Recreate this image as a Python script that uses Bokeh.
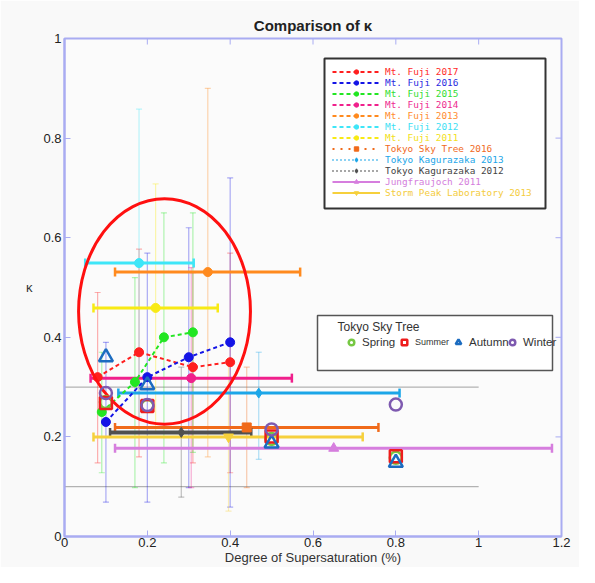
import math
from bokeh.plotting import figure
from bokeh.models import (ColumnDataSource, Whisker, TeeHead, Legend, LegendItem,
                          FixedTicker, CustomJSTickFormatter, BoxAnnotation, Range1d, Label)
from bokeh.embed import file_html
from bokeh.resources import INLINE

# ---------------- data ----------------
series_names = ["Mt. Fuji 2017", "Mt. Fuji 2016", "Mt. Fuji 2015", "Mt. Fuji 2014",
                "Mt. Fuji 2013", "Mt. Fuji 2012", "Mt. Fuji 2011", "Tokyo Sky Tree 2016",
                "Tokyo Kagurazaka 2013", "Tokyo Kagurazaka 2012", "Jungfraujoch 2011",
                "Storm Peak Laboratory 2013"]

fuji2017_x = [0.08, 0.18, 0.31, 0.40]
fuji2017_y = [0.32, 0.37, 0.34, 0.35]
fuji2017_ylo = [0.148, 0.16, 0.148, 0.128]
fuji2017_yhi = [0.49, 0.577, 0.53, 0.569]

fuji2016_x = [0.10, 0.20, 0.30, 0.40]
fuji2016_y = [0.23, 0.32, 0.36, 0.39]
fuji2016_ylo = [0.069, 0.069, 0.098, 0.059]
fuji2016_yhi = [0.39, 0.569, 0.62, 0.72]

fuji2015_x = [0.09, 0.17, 0.24, 0.31]
fuji2015_y = [0.25, 0.31, 0.40, 0.41]
fuji2015_ylo = [0.128, 0.098, 0.148, 0.169]
fuji2015_yhi = [0.37, 0.52, 0.65, 0.65]

fuji2014_x = [0.306]; fuji2014_y = [0.318]
fuji2014_ylo = [0.098]; fuji2014_yhi = [0.54]
fuji2014_xlo = [0.063]; fuji2014_xhi = [0.549]

fuji2013_x = [0.346]; fuji2013_y = [0.531]
fuji2013_ylo = [0.16]; fuji2013_yhi = [0.90]
fuji2013_xlo = [0.122]; fuji2013_xhi = [0.569]

fuji2012_x = [0.18]; fuji2012_y = [0.549]
fuji2012_ylo = [0.24]; fuji2012_yhi = [0.858]
fuji2012_xlo = [0.05]; fuji2012_xhi = [0.312]

fuji2011_x = [0.22]; fuji2011_y = [0.459]
fuji2011_ylo = [0.21]; fuji2011_yhi = [0.708]
fuji2011_xlo = [0.07]; fuji2011_xhi = [0.37]

skytree2016_x = [0.44]; skytree2016_y = [0.219]
skytree2016_ylo = [0.098]; skytree2016_yhi = [0.34]
skytree2016_xlo = [0.122]; skytree2016_xhi = [0.758]

kagura2013_x = [0.469]; kagura2013_y = [0.288]
kagura2013_ylo = [0.155]; kagura2013_yhi = [0.37]
kagura2013_xlo = [0.13]; kagura2013_xhi = [0.809]

kagura2012_x = [0.282]; kagura2012_y = [0.209]
kagura2012_ylo = [0.079]; kagura2012_yhi = [0.34]
kagura2012_xlo = [0.11]; kagura2012_xhi = [0.451]

jungfrau2011_x = [0.65]; jungfrau2011_y = [0.177]
jungfrau2011_xlo = [0.122]; jungfrau2011_xhi = [1.177]

stormpeak2013_x = [0.396]; stormpeak2013_y = [0.20]
stormpeak2013_ylo = [0.051]; stormpeak2013_yhi = [0.35]
stormpeak2013_xlo = [0.07]; stormpeak2013_xhi = [0.72]

# Tokyo Sky Tree seasonal values
season_names = ["Spring", "Summer", "Autumn", "Winter"]
season_x = [0.1, 0.2, 0.5, 0.8]
spring_y = [0.27, 0.262, 0.196, 0.158]
summer_y = [0.268, 0.262, 0.201, 0.161]
autumn_y = [0.36, 0.304, 0.187, 0.148]
winter_y = [0.288, 0.264, 0.215, 0.265]

# reference lines and highlight ellipse
ref_line_y = [0.3, 0.1]
ref_line_x0 = [0.0, 0.0]
ref_line_x1 = [1.0, 1.0]
highlight_x = [0.2415]
highlight_y = [0.452]
highlight_w = [0.415]
highlight_h = [0.453]

x_ticks = [0, 0.2, 0.4, 0.6, 0.8, 1.0, 1.2]
y_ticks = [0, 0.2, 0.4, 0.6, 0.8, 1.0]

# ---------------- styles ----------------
S = [
    dict(x=fuji2017_x, y=fuji2017_y, ylo=fuji2017_ylo, yhi=fuji2017_yhi, c="#ff1f1f", tc="#ff2a2a", m="circle", d="4 3"),
    dict(x=fuji2016_x, y=fuji2016_y, ylo=fuji2016_ylo, yhi=fuji2016_yhi, c="#1414e6", tc="#2a2ae0", m="circle", d="4 3"),
    dict(x=fuji2015_x, y=fuji2015_y, ylo=fuji2015_ylo, yhi=fuji2015_yhi, c="#22e622", tc="#33dd33", m="circle", d="4 3"),
    dict(x=fuji2014_x, y=fuji2014_y, ylo=fuji2014_ylo, yhi=fuji2014_yhi, xlo=fuji2014_xlo, xhi=fuji2014_xhi, c="#f0208c", tc="#ee2a90", m="circle", d="4 3"),
    dict(x=fuji2013_x, y=fuji2013_y, ylo=fuji2013_ylo, yhi=fuji2013_yhi, xlo=fuji2013_xlo, xhi=fuji2013_xhi, c="#ff8a1e", tc="#ff8c30", m="circle", d="4 3"),
    dict(x=fuji2012_x, y=fuji2012_y, ylo=fuji2012_ylo, yhi=fuji2012_yhi, xlo=fuji2012_xlo, xhi=fuji2012_xhi, c="#3ee6f8", tc="#3ee0f4", m="circle", d="4 3"),
    dict(x=fuji2011_x, y=fuji2011_y, ylo=fuji2011_ylo, yhi=fuji2011_yhi, xlo=fuji2011_xlo, xhi=fuji2011_xhi, c="#f8ea14", tc="#f2e020", m="circle", d="4 3"),
    dict(x=skytree2016_x, y=skytree2016_y, ylo=skytree2016_ylo, yhi=skytree2016_yhi, xlo=skytree2016_xlo, xhi=skytree2016_xhi, c="#f06a1a", tc="#f06a24", m="square", d="2 6"),
    dict(x=kagura2013_x, y=kagura2013_y, ylo=kagura2013_ylo, yhi=kagura2013_yhi, xlo=kagura2013_xlo, xhi=kagura2013_xhi, c="#1ca6e8", tc="#1ca6e8", m="diamond", d="1 3"),
    dict(x=kagura2012_x, y=kagura2012_y, ylo=kagura2012_ylo, yhi=kagura2012_yhi, xlo=kagura2012_xlo, xhi=kagura2012_xhi, c="#505050", tc="#444444", m="diamond", d="1 3"),
    dict(x=jungfrau2011_x, y=jungfrau2011_y, xlo=jungfrau2011_xlo, xhi=jungfrau2011_xhi, c="#d67ede", tc="#d47edc", m="triangle", d="solid"),
    dict(x=stormpeak2013_x, y=stormpeak2013_y, ylo=stormpeak2013_ylo, yhi=stormpeak2013_yhi, xlo=stormpeak2013_xlo, xhi=stormpeak2013_xhi, c="#f6d03c", tc="#f4cc40", m="inverted_triangle", d="solid"),
]

FONT = "Liberation Sans"
MONO = "DejaVu Sans Mono"
AXIS_C = "#a9acf2"

p = figure(width=579, height=567, output_backend="svg", toolbar_location=None,
           x_range=Range1d(0, 1.2), y_range=Range1d(0, 1),
           min_border_left=64, min_border_right=18, min_border_top=38, min_border_bottom=31,
           background_fill_color="#fbfbfb", border_fill_color="#f9f9f9")
p.title.text = "Comparison of κ"
p.title.align = "center"
p.title.text_font = FONT
p.title.text_font_size = "15px"
p.title.text_font_style = "bold"
p.title.text_color = "#222222"
p.grid.visible = False
p.outline_line_color = AXIS_C
p.outline_line_width = 2
p.outline_line_alpha = 1

for ax, ticks in ((p.xaxis[0], x_ticks), (p.yaxis[0], y_ticks)):
    ax.ticker = FixedTicker(ticks=ticks)
    ax.formatter = CustomJSTickFormatter(code="return (Math.round(tick*10)/10).toString();")
    ax.axis_line_color = AXIS_C
    ax.axis_line_width = 2
    ax.major_tick_line_color = AXIS_C
    ax.major_tick_in = 6
    ax.major_tick_out = 0
    ax.minor_tick_line_color = None
    ax.major_label_text_font = FONT
    ax.major_label_text_font_size = "13px"
    ax.major_label_text_color = "#222222"
    ax.major_label_standoff = 1
    ax.axis_label_text_font = FONT
    ax.axis_label_text_font_size = "13px"
    ax.axis_label_text_font_style = "normal"
    ax.axis_label_text_color = "#333333"
    ax.axis_label_standoff = 0
p.yaxis[0].major_label_standoff = 3
p.xaxis[0].axis_label = "Degree of Supersaturation (%)"
p.yaxis[0].axis_label = "κ"
p.yaxis[0].axis_label_orientation = "horizontal"
p.yaxis[0].axis_label_standoff = 8

# inward ticks on top and right edges (half of each dash is clipped by the frame)
p.scatter(x=x_ticks, y=[y_ticks[-1]] * len(x_ticks), marker="dash", angle=math.pi / 2,
          size=12, line_color=AXIS_C, line_width=1)
p.scatter(x=[x_ticks[-1]] * len(y_ticks), y=y_ticks, marker="dash", angle=0,
          size=12, line_color=AXIS_C, line_width=1)

# vertical error bars (thin, faint)
for s in S:
    if "ylo" in s:
        src = ColumnDataSource(dict(x=s["x"], lo=s["ylo"], hi=s["yhi"]))
        p.add_layout(Whisker(source=src, base="x", lower="lo", upper="hi", dimension="height",
                             line_color=s["c"], line_alpha=0.35, line_width=1.2,
                             upper_head=TeeHead(size=6, line_color=s["c"], line_alpha=0.35, line_width=1.2),
                             lower_head=TeeHead(size=6, line_color=s["c"], line_alpha=0.35, line_width=1.2)))

# gray reference lines
p.segment(x0=ref_line_x0, y0=ref_line_y, x1=ref_line_x1, y1=ref_line_y,
          line_color="#a0a0a0", line_width=1, level="underlay")

# horizontal error bars (thick)
for s in S:
    if "xlo" in s:
        src = ColumnDataSource(dict(y=s["y"], lo=s["xlo"], hi=s["xhi"]))
        lw = 4 if s["c"] == "#505050" else 3
        p.add_layout(Whisker(source=src, base="y", lower="lo", upper="hi", dimension="width",
                             line_color=s["c"], line_width=lw,
                             upper_head=TeeHead(size=9, line_color=s["c"], line_width=2.5),
                             lower_head=TeeHead(size=9, line_color=s["c"], line_width=2.5)))

renderers = []
for s in S:
    src = ColumnDataSource(dict(x=s["x"], y=s["y"]))
    lr = p.line("x", "y", source=src, line_color=s["c"], line_width=2, line_dash=s["d"])
    size = 9 if s["m"] in ("circle", "square") else 10
    pr = p.scatter("x", "y", source=src, marker=s["m"], size=size, fill_color=s["c"],
                   line_color=s["c"])
    renderers.append((lr, pr))

# highlight ellipse
p.ellipse(x=highlight_x, y=highlight_y, width=highlight_w, height=highlight_h,
          fill_alpha=0, line_color="#ff1010", line_width=3)

# Sky Tree seasonal markers
r_spring = p.scatter(season_x, spring_y, marker="circle", size=12, fill_color=None,
                     line_color="#76c843", line_width=2.5)
r_summer = p.scatter(season_x, summer_y, marker="square", size=12, fill_color=None,
                     line_color="#ee1c1c", line_width=2.5)
r_autumn = p.scatter(season_x, autumn_y, marker="triangle", size=14, fill_color=None,
                     line_color="#1c6cc0", line_width=2.5)
r_winter = p.scatter(season_x, winter_y, marker="circle", size=12, fill_color=None,
                     line_color="#7e5ab0", line_width=2.5)

# main legend box
p.add_layout(BoxAnnotation(left=260, right=481, bottom=328, top=478,
                           left_units="screen", right_units="screen",
                           top_units="screen", bottom_units="screen",
                           fill_color="white", fill_alpha=1, line_color="#333333",
                           line_width=2, line_alpha=1))
for i, (name, s, (lr, pr)) in enumerate(zip(series_names, S, renderers)):
    leg = Legend(items=[LegendItem(label=name, renderers=[lr, pr])],
                 location=(268, 459 - 11 * i), margin=0, padding=0, spacing=0,
                 glyph_width=48, glyph_height=11, label_height=11, label_standoff=5,
                 label_text_font=MONO, label_text_font_size="9.4px", label_text_color=s["tc"],
                 border_line_alpha=0, background_fill_alpha=0)
    p.add_layout(leg)

# seasonal legend
p.add_layout(BoxAnnotation(left=253, right=488, bottom=166, top=221,
                           left_units="screen", right_units="screen",
                           top_units="screen", bottom_units="screen",
                           fill_color="white", fill_alpha=1, line_color="#555555",
                           line_width=1.5, line_alpha=1))
p.add_layout(Label(x=273, y=210, x_units="screen", y_units="screen", text="Tokyo Sky Tree",
                   text_font=FONT, text_font_size="12px", text_color="#333333",
                   text_baseline="middle"))
season_rs = [r_spring, r_summer, r_autumn, r_winter]
season_lx = [280, 333, 387, 441]
season_fs = ["11.5px", "9px", "11.5px", "11.5px"]
for name, r, lx, fs in zip(season_names, season_rs, season_lx, season_fs):
    p.add_layout(Legend(items=[LegendItem(label=name, renderers=[r])],
                        location=(lx, 187), margin=0, padding=0, spacing=0,
                        glyph_width=14, glyph_height=14, label_height=14, label_standoff=4,
                        label_text_font=FONT, label_text_font_size=fs,
                        label_text_color="#333333",
                        border_line_alpha=0, background_fill_alpha=0))

open("out.html", "w").write(file_html(p, INLINE))
